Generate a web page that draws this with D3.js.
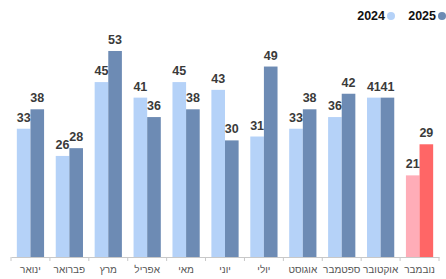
<!DOCTYPE html>
<html>
<head>
<meta charset="utf-8">
<script src="https://cdn.jsdelivr.net/npm/d3@7"></script>
<style>
  body { margin: 0; background: #fff; }
  svg { display: block; font-family: 'Liberation Sans', Arial, sans-serif; }
</style>
</head>
<body>
<div id="chart"></div>
<script>
// data
var months = ['ינואר', 'פברואר', 'מרץ', 'אפריל', 'מאי', 'יוני', 'יולי', 'אוגוסט', 'ספטמבר', 'אוקטובר', 'נובמבר'];
var values2024 = [33, 26, 45, 41, 45, 43, 31, 33, 36, 41, 21];
var values2025 = [38, 28, 53, 36, 38, 30, 49, 38, 42, 41, 29];
var years = ['2024', '2025'];

var width = 446, height = 279;
var left = 11, right = 439, base = 257;

var svg = d3.select('#chart')
    .append('svg')
        .attr('width', width)
        .attr('height', height);

// X scales
var x0 = d3.scaleBand()
    .domain(months)
    .range([left, right])
    .paddingInner(0.3)
    .paddingOuter(0.15);

var x1 = d3.scaleBand()
    .domain(years)
    .range([0, x0.bandwidth()]);

// Y scale
var y = d3.scaleLinear()
    .domain([0, 60])
    .range([base, base - 60 * 3.887]);

var color = d3.scaleOrdinal().domain(years).range(['#b5d2f8', '#6d8bb4']);
var colorLast = d3.scaleOrdinal().domain(years).range(['#ffadb8', '#ff6666']);

var rows = months.map(function (m, i) {
  return { month: m, last: i === months.length - 1, vals: [
    { year: '2024', v: values2024[i] },
    { year: '2025', v: values2025[i] }
  ] };
});

var groups = svg.selectAll('g.grp')
    .data(rows)
    .enter().append('g')
        .attr('class', 'grp')
        .attr('transform', function (d) { return 'translate(' + x0(d.month) + ',0)'; });

groups.selectAll('rect')
    .data(function (d) { return d.vals.map(function (e) { return Object.assign({ last: d.last }, e); }); })
    .enter().append('rect')
        .attr('x', function (d) { return x1(d.year); })
        .attr('y', function (d) { return y(d.v); })
        .attr('width', x1.bandwidth())
        .attr('height', function (d) { return base - y(d.v); })
        .attr('fill', function (d) { return d.last ? colorLast(d.year) : color(d.year); });

groups.selectAll('text')
    .data(function (d) { return d.vals; })
    .enter().append('text')
        .attr('x', function (d) { return x1(d.year) + x1.bandwidth() / 2; })
        .attr('y', function (d) { return y(d.v) - 7; })
        .attr('text-anchor', 'middle')
        .attr('font-size', '12.5px')
        .attr('font-weight', 'bold')
        .attr('fill', '#3a3a3a')
        .text(function (d) { return d.v; });

// X Axis
var xAxis = d3.axisBottom(x0).tickSize(0).tickPadding(9);
var ax = svg.append('g')
    .attr('transform', 'translate(0,' + base + ')')
    .call(xAxis);
ax.select('.domain').attr('stroke', '#c8c8c8');
ax.selectAll('.tick text')
    .attr('font-size', '10px')
    .attr('fill', '#555')
    .attr('font-family', "'Liberation Sans', Arial, sans-serif");

// separator ticks
var step = x0.step();
var seps = d3.range(months.length + 1).map(function (i) { return left + i * step; });
svg.selectAll('line.sep')
    .data(seps)
    .enter().append('line')
        .attr('class', 'sep')
        .attr('x1', function (d) { return d; })
        .attr('x2', function (d) { return d; })
        .attr('y1', base)
        .attr('y2', base + 4)
        .attr('stroke', '#c8c8c8');

// Legend
var legendX = { '2024': 385, '2025': 436 };
var lg = svg.selectAll('g.legend')
    .data(years)
    .enter().append('g')
        .attr('class', 'legend');
lg.append('text')
    .attr('x', function (d) { return legendX[d]; })
    .attr('y', 20)
    .attr('text-anchor', 'end')
    .attr('font-size', '12.5px')
    .attr('font-weight', 'bold')
    .attr('fill', '#111')
    .text(function (d) { return d; });
lg.append('circle')
    .attr('cx', function (d) { return legendX[d] + 6; })
    .attr('cy', 16)
    .attr('r', 4)
    .attr('fill', function (d) { return color(d); });
</script>
</body>
</html>
